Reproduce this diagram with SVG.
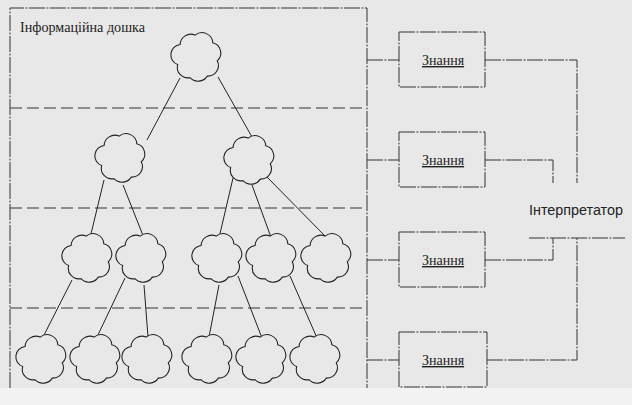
<svg xmlns="http://www.w3.org/2000/svg" width="632" height="405" viewBox="0 0 632 405">
<style>
.bg{fill:#e8e8e8}
.strip{fill:#f2f2f2}
.frame{fill:none;stroke:#333;stroke-width:1;stroke-dasharray:16 1.5 2 1.5}
.sep{fill:none;stroke:#333;stroke-width:1;stroke-dasharray:12 5}
.box{fill:none;stroke:#333;stroke-width:1;stroke-dasharray:16 1.5 2 1.5}
.link{fill:none;stroke:#333;stroke-width:1;stroke-dasharray:16 1.5 2 1.5}
.edge{fill:none;stroke:#222;stroke-width:1}
.cloud{fill:#e8e8e8;stroke:#222;stroke-width:1}
.serif{font-family:"Liberation Serif","Times New Roman","DejaVu Serif",serif;font-size:14px;fill:#222}
.sans{font-family:"Liberation Sans",Arial,sans-serif;font-size:14px;fill:#222}
</style>
<defs>
<path id="cloud" class="cloud" transform="scale(1.08,1.05)" d="M -1.7,-20.9 A 10 10 0 0 1 14.6,-13.5 A 10 10 0 0 1 18.7,3.6 A 10 10 0 0 1 9.5,18.2 A 10 10 0 0 1 -6.5,19.7 A 10 10 0 0 1 -17.9,7.2 A 10 10 0 0 1 -15.6,-12 A 10 10 0 0 1 -1.7,-20.9 Z"/>
</defs>
<rect class="bg" x="0" y="0" width="632" height="405"/>
<rect class="strip" x="0" y="388" width="632" height="17"/>

<g id="board">
<path class="frame" d="M10,388 V8 H367 V388"/>
<path class="sep" d="M10,108 H367 M10,208 H367 M10,308 H367"/>
<text class="serif" x="20" y="32" textLength="125" lengthAdjust="spacingAndGlyphs">Інформаційна дошка</text>
</g>

<g id="connectors">
<g class="edge">
<line x1="180" y1="78" x2="147" y2="140"/>
<line x1="218" y1="77" x2="252" y2="137"/>
<line x1="104" y1="180" x2="90" y2="238"/>
<line x1="123" y1="185" x2="144" y2="238"/>
<line x1="233" y1="178" x2="219" y2="238"/>
<line x1="252" y1="185" x2="272" y2="240"/>
<line x1="266" y1="176" x2="327" y2="238"/>
<line x1="72" y1="280" x2="43" y2="337"/>
<line x1="125" y1="278" x2="97" y2="337"/>
<line x1="144" y1="285" x2="148" y2="337"/>
<line x1="219" y1="285" x2="209" y2="337"/>
<line x1="238" y1="276" x2="262" y2="338"/>
<line x1="290" y1="276" x2="317" y2="338"/>
</g>
<g class="link">
<path d="M367,60 H399"/>
<path d="M367,160 H399"/>
<path d="M367,260 H399"/>
<path d="M367,360 H399"/>
<path d="M485,60 H577 V183"/>
<path d="M485,160 H553 V183"/>
<path d="M485,260 H553 V238"/>
<path d="M487,360 H577 V238"/>
</g>
</g>

<g id="c0"><use href="#cloud" x="197" y="57"/></g>
<g id="c1a"><use href="#cloud" x="121" y="158"/></g>
<g id="c1b"><use href="#cloud" x="250" y="160"/></g>
<g id="c2a"><use href="#cloud" x="88" y="258"/></g>
<g id="c2b"><use href="#cloud" x="142" y="258"/></g>
<g id="c2c"><use href="#cloud" x="218" y="258"/></g>
<g id="c2d"><use href="#cloud" x="272" y="258"/></g>
<g id="c2e"><use href="#cloud" x="327" y="258"/></g>
<g id="c3a"><use href="#cloud" x="42" y="359"/></g>
<g id="c3b"><use href="#cloud" x="96" y="359"/></g>
<g id="c3c"><use href="#cloud" x="148" y="359"/></g>
<g id="c3d"><use href="#cloud" x="208" y="359"/></g>
<g id="c3e"><use href="#cloud" x="262" y="359"/></g>
<g id="c3f"><use href="#cloud" x="316" y="359"/></g>

<g id="k1"><rect class="box" x="399" y="32" width="86" height="55"/><text class="serif" x="443" y="65" text-anchor="middle" text-decoration="underline">Знання</text></g>
<g id="k2"><rect class="box" x="399" y="132" width="86" height="55"/><text class="serif" x="443" y="165" text-anchor="middle" text-decoration="underline">Знання</text></g>
<g id="k3"><rect class="box" x="399" y="232" width="86" height="55"/><text class="serif" x="443" y="265" text-anchor="middle" text-decoration="underline">Знання</text></g>
<g id="k4"><rect class="box" x="399" y="332" width="88" height="55"/><text class="serif" x="443" y="365" text-anchor="middle" text-decoration="underline">Знання</text></g>

<g id="interp">
<text class="sans" x="529" y="215" textLength="94" lengthAdjust="spacingAndGlyphs">Інтерпретатор</text>
<path class="link" d="M529,238 H625"/>
</g>
</svg>
